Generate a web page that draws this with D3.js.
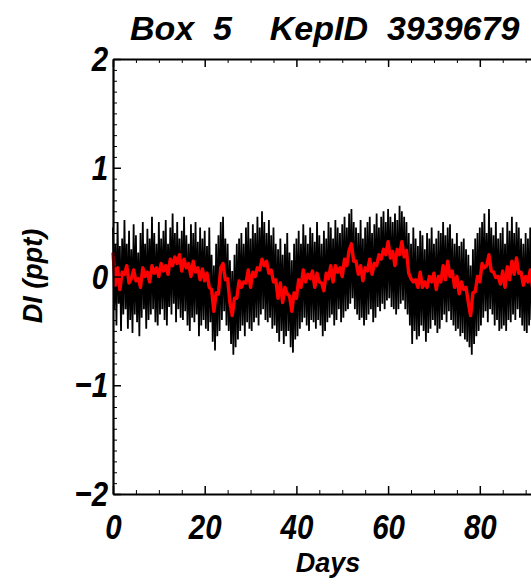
<!DOCTYPE html>
<html>
<head>
  <meta charset="utf-8">
  <script src="https://d3js.org/d3.v7.min.js"></script>
  <style>
    body { margin: 0; background: #fff; }
    .title, .axis-title {
      font-family: "Liberation Sans", Arial, sans-serif;
      font-weight: bold;
      font-style: italic;
      fill: #000;
    }
    .tick-label {
      font-family: "Liberation Sans", Arial, sans-serif;
      font-weight: bold;
      font-style: italic;
      font-size: 36px;
      fill: #000;
    }
    .axis path, .axis line { stroke: #000; }
  </style>
</head>
<body>
  <svg id="chart" width="531" height="585"></svg>
  <script>
    // Sampling of the light curve, in days
    const step = 0.5;

    // Smoothed flux (red), one value every half day from day 0
    const smoothFlux = [
      0.22, -0.08, 0.08, -0.12, 0.04, 0.02, 0.1, -0.06, -0.02, 0.06,
      -0.04, -0.02, -0.1, 0.08, 0.0, 0.04, -0.05, 0.1, 0.03, 0.08,
      0.0, 0.12, 0.05, 0.1, 0.02, 0.16, 0.1, 0.18, 0.12, 0.2,
      0.05, 0.16, 0.08, 0.12, 0.0, 0.14, 0.04, 0.08, -0.03, 0.07,
      -0.04, 0.03, -0.1, -0.12, -0.32, -0.15, -0.16, 0.08, 0.12, -0.03,
      -0.02, -0.24, -0.36, -0.2, -0.2, -0.04, -0.1, -0.05, -0.06, 0.06,
      -0.1, 0.04, 0.0, 0.08, 0.06, 0.16, 0.1, 0.14, 0.03, 0.06,
      -0.05, -0.03, -0.2, -0.06, -0.24, -0.1, -0.16, -0.18, -0.32, -0.15,
      -0.2, -0.03, -0.1, 0.06, -0.05, 0.02, -0.02, 0.05, -0.1, 0.03,
      -0.05, -0.06, -0.13, 0.03, -0.02, 0.1, -0.05, 0.1, 0.04, 0.08,
      0.0, 0.16, 0.1, 0.24, 0.3, 0.14, 0.14, 0.02, 0.1, -0.04,
      0.08, 0.05, 0.16, 0.02, 0.12, 0.1, 0.2, 0.16, 0.25, 0.2,
      0.32, 0.17, 0.23, 0.1, 0.25, 0.2, 0.32, 0.18, 0.24, 0.03,
      -0.02, -0.05, -0.03, -0.1, 0.04, -0.1, -0.05, -0.1, 0.0, -0.05,
      0.03, -0.12, 0.0, -0.05, 0.1, -0.03, 0.14, 0.0, 0.05, -0.1,
      0.0, -0.16, -0.05, -0.12, -0.1, -0.24, -0.36, -0.15, -0.14, 0.0,
      -0.05, 0.12, 0.08, 0.1, 0.2, 0.05, 0.04, -0.01, 0.0, -0.07,
      0.05, -0.1, 0.09, -0.03, 0.14, 0.02, 0.17, 0.03, 0.04, -0.08,
      0.0, -0.05, 0.06, -0.1, -0.02
    ];

    // Raw flux (black): high point at each half day, low point a quarter day later
    const rawHigh = [
      0.45, 0.3, 0.5, 0.28, 0.35, 0.52, 0.3, 0.42, 0.25, 0.48,
      0.38, 0.22, 0.4, 0.5, 0.3, 0.44, 0.35, 0.55, 0.4, 0.3,
      0.5, 0.35, 0.42, 0.52, 0.3, 0.45, 0.58, 0.4, 0.5, 0.35,
      0.42, 0.55, 0.38, 0.3, 0.48, 0.4, 0.5, 0.32, 0.45, 0.35,
      0.42, 0.28, 0.45, 0.2, 0.1, 0.3, 0.38, 0.5, 0.55, 0.35,
      0.3, 0.15, 0.05, 0.2, 0.3, 0.35, 0.4, 0.3, 0.45, 0.5,
      0.35, 0.48, 0.4, 0.55, 0.45, 0.6, 0.5, 0.4, 0.52, 0.38,
      0.45, 0.3, 0.25, 0.35, 0.2, 0.3, 0.4, 0.22, 0.15, 0.3,
      0.35, 0.42, 0.3, 0.48, 0.38, 0.3, 0.45, 0.4, 0.32, 0.5,
      0.38, 0.3, 0.42, 0.35, 0.5, 0.45, 0.35, 0.52, 0.45, 0.4,
      0.48, 0.55, 0.45, 0.58, 0.62, 0.5, 0.45, 0.4, 0.52, 0.35,
      0.45, 0.5, 0.55, 0.4, 0.48, 0.58, 0.45, 0.55, 0.6, 0.5,
      0.62, 0.55, 0.5, 0.58, 0.52, 0.65, 0.6, 0.55, 0.5, 0.4,
      0.3, 0.45, 0.35, 0.28, 0.42, 0.38, 0.25, 0.4, 0.35, 0.45,
      0.3, 0.35, 0.42, 0.4, 0.5, 0.38, 0.45, 0.48, 0.35, 0.3,
      0.4, 0.28, 0.32, 0.35, 0.25, 0.2, 0.1, 0.25, 0.35, 0.4,
      0.45, 0.5, 0.58, 0.4, 0.62, 0.45, 0.38, 0.5, 0.35, 0.4,
      0.45, 0.3, 0.5, 0.42, 0.55, 0.4, 0.5, 0.45, 0.35, 0.3,
      0.4, 0.35, 0.45, 0.3, 0.38
    ];
    const rawLow = [
      -0.3, -0.45, -0.25, -0.5, -0.35, -0.3, -0.48, -0.4, -0.52, -0.35,
      -0.42, -0.55, -0.38, -0.3, -0.48, -0.4, -0.35, -0.3, -0.42, -0.45,
      -0.35, -0.3, -0.4, -0.45, -0.28, -0.35, -0.25, -0.42, -0.3, -0.38,
      -0.4, -0.32, -0.45, -0.5, -0.38, -0.42, -0.35, -0.55, -0.45, -0.4,
      -0.48, -0.5, -0.42, -0.6, -0.68, -0.55, -0.5, -0.4, -0.32, -0.45,
      -0.5, -0.62, -0.72, -0.65, -0.58, -0.5, -0.45, -0.55, -0.42, -0.48,
      -0.5, -0.42, -0.38, -0.45, -0.35, -0.3, -0.4, -0.42, -0.38, -0.48,
      -0.45, -0.52, -0.6, -0.5, -0.62, -0.55, -0.5, -0.65, -0.7, -0.58,
      -0.55, -0.48, -0.42, -0.38, -0.45, -0.5, -0.4, -0.42, -0.48, -0.4,
      -0.45, -0.55, -0.5, -0.42, -0.38, -0.35, -0.45, -0.4, -0.3, -0.42,
      -0.38, -0.32, -0.3, -0.25, -0.2, -0.3, -0.35, -0.4, -0.38, -0.45,
      -0.4, -0.35, -0.3, -0.42, -0.38, -0.28, -0.32, -0.25, -0.3, -0.22,
      -0.2, -0.28, -0.3, -0.35, -0.3, -0.25, -0.22, -0.3, -0.35, -0.45,
      -0.62, -0.5, -0.58, -0.55, -0.45, -0.5, -0.6, -0.52, -0.48, -0.4,
      -0.45, -0.52, -0.48, -0.4, -0.35, -0.42, -0.32, -0.4, -0.45, -0.5,
      -0.48, -0.55, -0.52, -0.58, -0.6, -0.65, -0.72, -0.62, -0.55, -0.5,
      -0.45, -0.38, -0.32, -0.42, -0.3, -0.35, -0.45, -0.4, -0.5, -0.48,
      -0.45, -0.5, -0.4, -0.42, -0.35, -0.4, -0.3, -0.38, -0.45, -0.5,
      -0.52, -0.45, -0.4, -0.5, -0.48
    ];

    // Axis ticks (the 100 tick lies outside the cropped window)
    const xMajorTicks = [0, 20, 40, 60, 80];
    const xMinorTicks = [5, 10, 15, 25, 30, 35, 45, 50, 55, 65, 70, 75, 85, 90, 95];
    const yMajorTicks = [-2, -1, 0, 1, 2];

    const titleText = "Box  5    KepID  3939679";
    const xLabel = "Days";
    const yLabel = "DI (ppt)";

    const svg = d3.select("#chart");

    // Plot box (right edge falls outside the window, as in the original crop)
    const x = d3.scaleLinear().domain([0, 100]).range([113, 571.5]);
    const y = d3.scaleLinear().domain([-2, 2]).range([494, 59]);

    const yMinorTicks = d3.range(-20, 21).map(d => d / 10).filter(d => !yMajorTicks.includes(d));

    // Black zigzag: high then low point for every sample
    const rawPoints = [];
    rawHigh.forEach((v, i) => {
      rawPoints.push([i * step, v]);
      rawPoints.push([i * step + step / 2, rawLow[i]]);
    });

    const line = d3.line()
      .x(d => x(d[0]))
      .y(d => y(d[1]));

    svg.append("path")
      .datum(rawPoints)
      .attr("fill", "none")
      .attr("stroke", "#000")
      .attr("stroke-width", 1.8)
      .attr("d", line);

    svg.append("path")
      .datum(smoothFlux.map((v, i) => [i * step, v]))
      .attr("fill", "none")
      .attr("stroke", "#ff0000")
      .attr("stroke-width", 3.4)
      .attr("stroke-linejoin", "round")
      .attr("d", line);

    // Minor ticks (no labels)
    svg.append("g")
      .attr("class", "axis")
      .attr("transform", `translate(0,${y(-2)})`)
      .call(d3.axisBottom(x).tickValues(xMinorTicks).tickSize(-4).tickSizeOuter(0).tickFormat(""))
      .call(g => g.select(".domain").remove());
    svg.append("g")
      .attr("class", "axis")
      .attr("transform", `translate(0,${y(2)})`)
      .call(d3.axisTop(x).tickValues(xMinorTicks).tickSize(-4).tickSizeOuter(0).tickFormat(""))
      .call(g => g.select(".domain").remove());
    svg.append("g")
      .attr("class", "axis")
      .attr("transform", `translate(${x(0)},0)`)
      .call(d3.axisLeft(y).tickValues(yMinorTicks).tickSize(-4).tickSizeOuter(0).tickFormat(""))
      .call(g => g.select(".domain").remove());

    // Major ticks with labels, labels squeezed to look condensed
    svg.append("g")
      .attr("class", "axis")
      .attr("transform", `translate(0,${y(-2)})`)
      .call(d3.axisBottom(x).tickValues(xMajorTicks).tickSize(-8).tickSizeOuter(0).tickPadding(19).tickFormat(d3.format("d")))
      .call(g => g.selectAll("line").attr("stroke-width", 1.5))
      .call(g => g.select(".domain").attr("stroke-width", 2.2))
      .call(g => g.selectAll("text").attr("class", "tick-label").attr("font-size", null).attr("font-family", null)
        .attr("transform", "scale(0.82,1)"));
    svg.append("g")
      .attr("class", "axis")
      .attr("transform", `translate(0,${y(2)})`)
      .call(d3.axisTop(x).tickValues(xMajorTicks).tickSize(-8).tickSizeOuter(0).tickFormat(""))
      .call(g => g.selectAll("line").attr("stroke-width", 1.5))
      .call(g => g.select(".domain").attr("stroke-width", 2.2));
    svg.append("g")
      .attr("class", "axis")
      .attr("transform", `translate(${x(0)},0)`)
      .call(d3.axisLeft(y).tickValues(yMajorTicks).tickSize(-8).tickSizeOuter(0).tickPadding(6).tickFormat(d3.format("d")))
      .call(g => g.selectAll("line").attr("stroke-width", 1.5))
      .call(g => g.select(".domain").attr("stroke-width", 2.2))
      .call(g => g.selectAll("text").attr("class", "tick-label").attr("font-size", null).attr("font-family", null)
        .attr("transform", "scale(0.82,1)"));

    // Title and axis titles
    svg.append("text")
      .attr("class", "title")
      .attr("x", 130)
      .attr("y", 40)
      .attr("font-size", 34)
      .style("white-space", "pre")
      .text(titleText);

    svg.append("text")
      .attr("class", "axis-title")
      .attr("x", 328)
      .attr("y", 572)
      .attr("text-anchor", "middle")
      .attr("font-size", 27)
      .text(xLabel);

    svg.append("text")
      .attr("class", "axis-title")
      .attr("transform", "translate(42,276) rotate(-90)")
      .attr("text-anchor", "middle")
      .attr("font-size", 27)
      .text(yLabel);
  </script>
</body>
</html>
